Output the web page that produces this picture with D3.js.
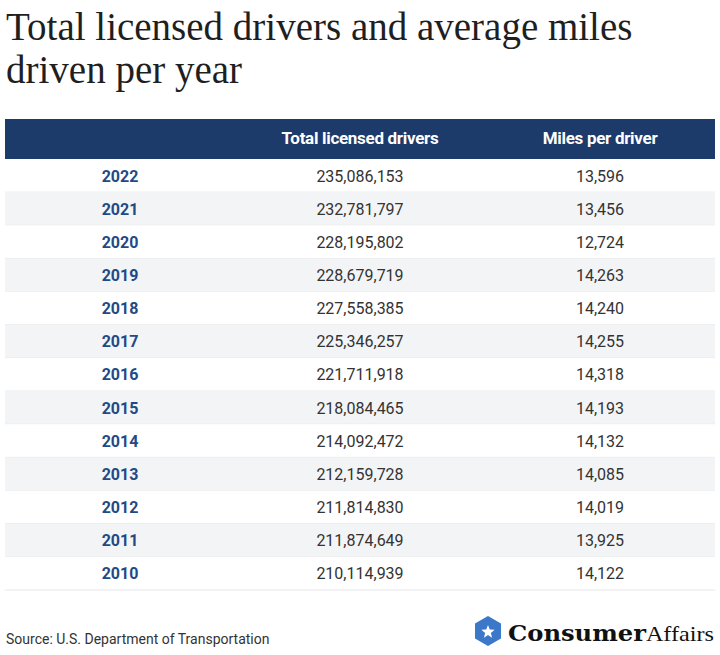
<!DOCTYPE html>
<html lang="en">
<head>
<meta charset="UTF-8">
<title>Total licensed drivers and average miles driven per year</title>
<style>
  body { margin: 0; background: #fff; }
  svg { display: block; }
</style>
</head>
<body>
<div id="chart"></div>
<script src="https://cdn.jsdelivr.net/npm/d3@7"></script>
<script>
  var years = [2022, 2021, 2020, 2019, 2018, 2017, 2016, 2015, 2014, 2013, 2012, 2011, 2010];
  var drivers = [235086153, 232781797, 228195802, 228679719, 227558385, 225346257, 221711918,
                 218084465, 214092472, 212159728, 211814830, 211874649, 210114939];
  var miles = [13596, 13456, 12724, 14263, 14240, 14255, 14318, 14193, 14132, 14085, 14019, 13925, 14122];
  var headers = ["", "Total licensed drivers", "Miles per driver"];

  var W = 720, H = 655;
  var svg = d3.select("#chart").append("svg").attr("width", W).attr("height", H);
  var fmt = d3.format(",");
  var sans = "Roboto, 'Noto Sans', sans-serif";

  // title
  svg.selectAll(".title").data(["Total licensed drivers and average miles", "driven per year"])
    .enter().append("text")
    .attr("x", 6).attr("y", function(d, i) { return 40 + i * 43; })
    .attr("font-family", "'Liberation Serif', serif")
    .attr("font-size", 39).attr("fill", "#1f1f1f")
    .text(function(d) { return d; });

  // columns
  var x = d3.scalePoint().domain([0, 1, 2]).range([120, 600]);
  var y = d3.scaleBand().domain(d3.range(years.length)).range([159, 590]);

  svg.append("rect").attr("x", 5).attr("y", 119).attr("width", 710).attr("height", 41).attr("fill", "#1c3a6a");
  svg.selectAll(".hdr").data(headers).enter().append("text")
    .attr("x", function(d, i) { return x(i); }).attr("y", 144)
    .attr("text-anchor", "middle").attr("font-family", sans)
    .attr("font-weight", "bold").attr("font-size", 17).attr("fill", "#fff")
    .attr("letter-spacing", -0.3)
    .text(function(d) { return d; });

  var rows = svg.selectAll(".row").data(years).enter().append("g")
    .attr("transform", function(d, i) { return "translate(0," + y(i) + ")"; });
  rows.append("rect").attr("x", 5).attr("width", 710).attr("height", y.bandwidth())
    .attr("fill", function(d, i) { return i % 2 ? "#f3f4f6" : "#fff"; });
  rows.append("line").attr("x1", 5).attr("x2", 715).attr("y1", y.bandwidth()).attr("y2", y.bandwidth())
    .attr("stroke", "#e6e7ea");
  var cy = y.bandwidth() / 2 + 6;
  rows.append("text").attr("x", x(0)).attr("y", cy).attr("text-anchor", "middle")
    .attr("font-family", sans).attr("font-weight", "bold").attr("font-size", 16).attr("fill", "#1f4a86")
    .text(function(d) { return d; });
  rows.append("text").attr("x", x(1)).attr("y", cy).attr("text-anchor", "middle")
    .attr("font-family", sans).attr("font-size", 16).attr("fill", "#333")
    .text(function(d, i) { return fmt(drivers[i]); });
  rows.append("text").attr("x", x(2)).attr("y", cy).attr("text-anchor", "middle")
    .attr("font-family", sans).attr("font-size", 16).attr("fill", "#333")
    .text(function(d, i) { return fmt(miles[i]); });

  // footer
  svg.append("text").attr("x", 6).attr("y", 644).attr("font-family", sans)
    .attr("font-size", 14).attr("fill", "#333").text("Source: U.S. Department of Transportation");

  var hex = d3.range(6).map(function(k) {
    var a = Math.PI / 3 * k + Math.PI / 6;
    return [488 + 15 * Math.cos(a), 631 + 15 * Math.sin(a)];
  });
  svg.append("polygon").attr("points", hex.join(" ")).attr("fill", "#3b78c9");
  var star = d3.range(10).map(function(k) {
    var a = Math.PI / 5 * k - Math.PI / 2, r = k % 2 ? 3 : 7;
    return [488 + r * Math.cos(a), 632 + r * Math.sin(a)];
  });
  svg.append("polygon").attr("points", star.join(" ")).attr("fill", "#fff");
  var logo = svg.append("text").attr("x", 508).attr("y", 641)
    .attr("font-family", "'DejaVu Serif', serif").attr("font-size", 22).attr("fill", "#111")
    .attr("textLength", 206).attr("lengthAdjust", "spacingAndGlyphs");
  logo.append("tspan").attr("font-weight", "900").text("Consumer");
  logo.append("tspan").attr("font-family", "'Liberation Serif', serif").text("Affairs");
</script>
</body>
</html>
